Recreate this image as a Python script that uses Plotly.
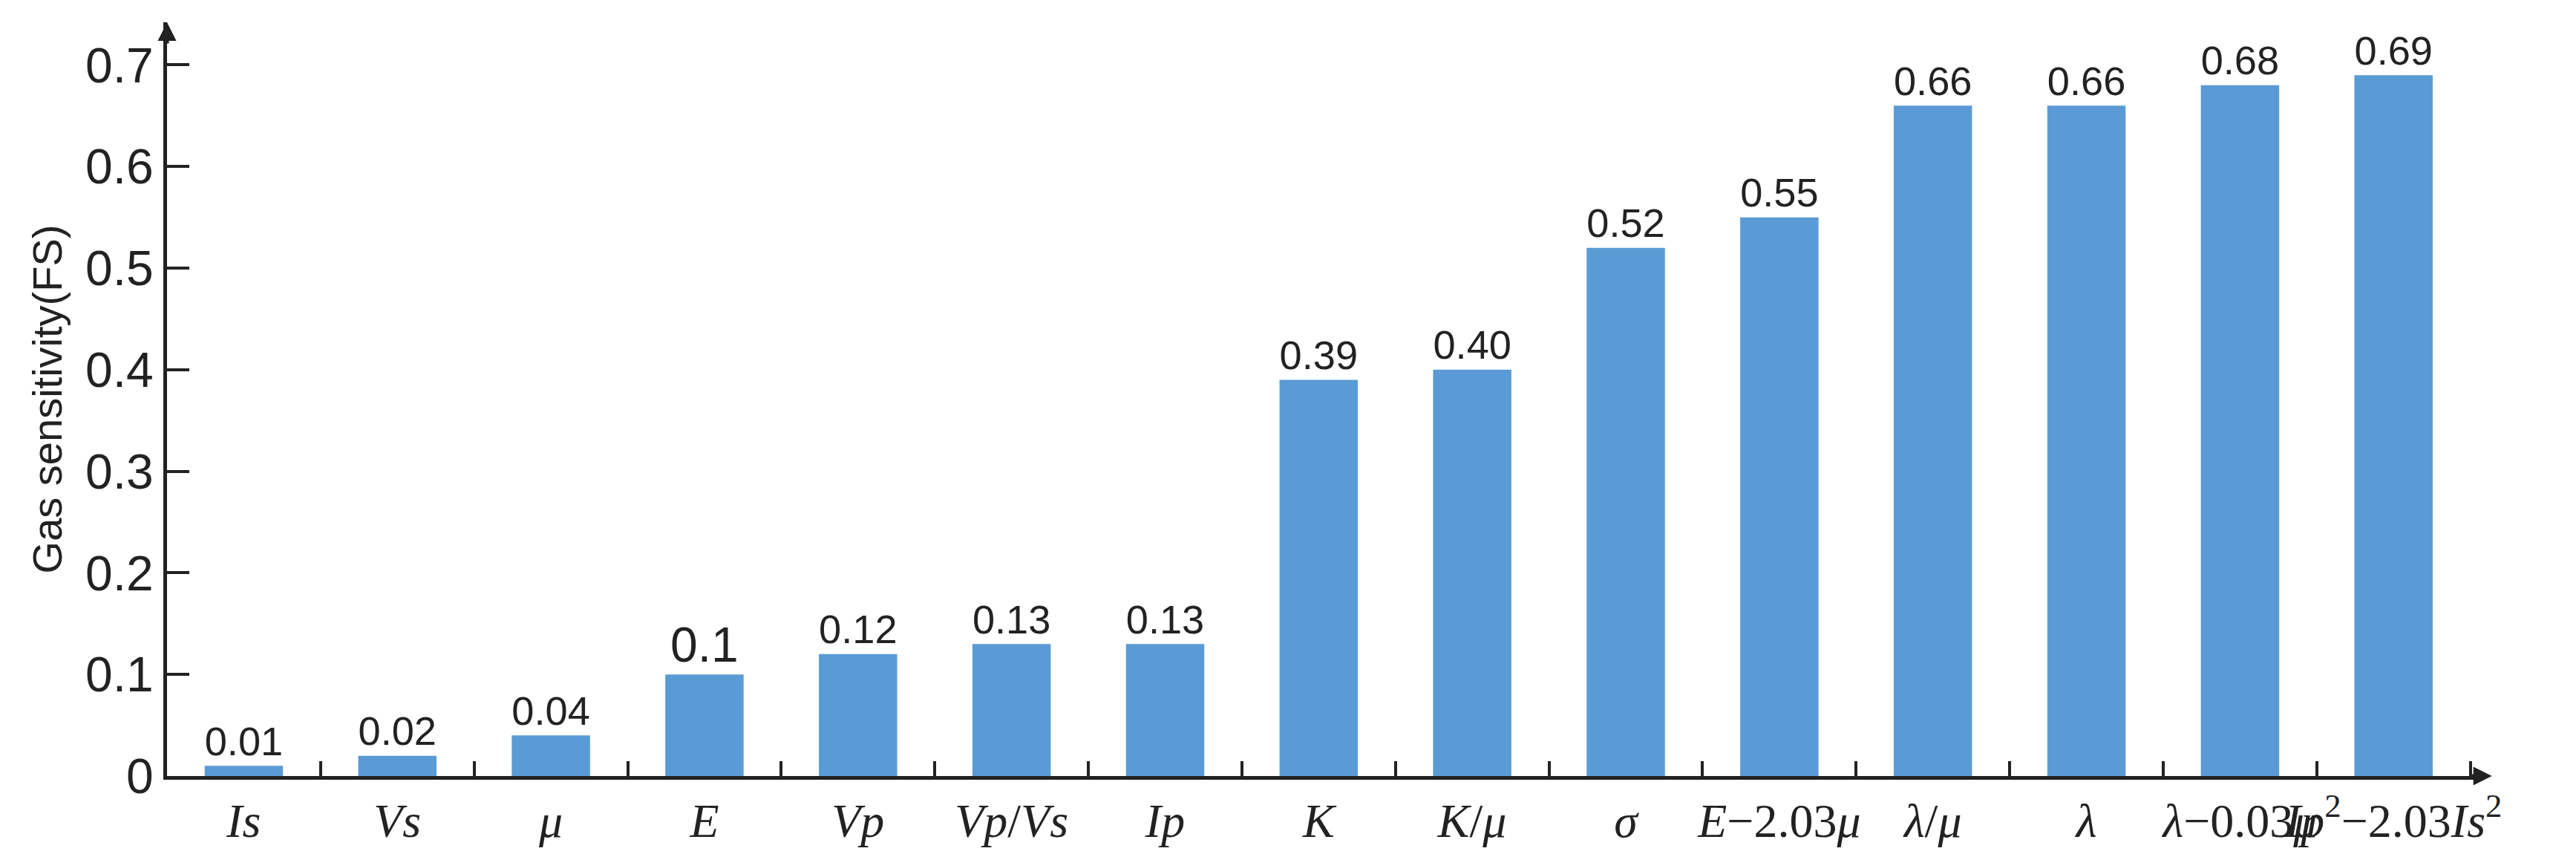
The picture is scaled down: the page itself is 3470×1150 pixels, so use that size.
import plotly.graph_objects as go

# parameters and their gas sensitivity
params = ['<i>Is</i>', '<i>Vs</i>', '<i>μ</i>', '<i>E</i>', '<i>Vp</i>', '<i>Vp</i>/<i>Vs</i>', '<i>Ip</i>',
          '<i>K</i>', '<i>K</i>/<i>μ</i>', '<i>σ</i>', '<i>E</i>−2.03<i>μ</i>', '<i>λ</i>/<i>μ</i>', '<i>λ</i>',
          '<i>λ</i>−0.03<i>μ</i>', '<i>Ip</i><sup>2</sup>−2.03<i>Is</i><sup>2</sup>']
fs_values = [0.01, 0.02, 0.04, 0.1, 0.12, 0.13, 0.13, 0.39, 0.40, 0.52, 0.55, 0.66, 0.66, 0.68, 0.69]
value_labels = ['0.01', '0.02', '0.04', '0.1', '0.12', '0.13', '0.13', '0.39', '0.40', '0.52', '0.55',
                '0.66', '0.66', '0.68', '0.69']

fig = go.Figure()
fig.add_trace(go.Bar(x=params, y=fs_values, text=value_labels, textposition='outside',
                     cliponaxis=False, width=0.51, marker=dict(color='#5B9BD5', line=dict(width=0)),
                     textfont=dict(size=66, color='#222')))

fig.update_layout(
    width=3470, height=1150, plot_bgcolor='white', paper_bgcolor='white',
    margin=dict(l=217, r=140, t=22, b=113), showlegend=False,
    font=dict(family='Liberation Sans, Arial', color='#222'),
    xaxis=dict(type='category', range=[-0.5, 14.55], showline=True, linecolor='#222', linewidth=5,
               ticks='inside', tickson='boundaries', ticklen=20, tickwidth=4, tickcolor='#222',
               tickangle=0, tickfont=dict(size=64, family='Liberation Sans Narrow, Arial Narrow'),
               showgrid=False),
    yaxis=dict(range=[0, 0.742], showline=True, linecolor='#222', linewidth=5, ticks='inside',
               ticklen=30, tickwidth=4, tickcolor='#222', dtick=0.1, tickformat='.1~f',
               tickfont=dict(size=66), showgrid=False, zeroline=False,
               title=dict(text='Gas sensitivity(FS)', font=dict(size=56), standoff=15)),
)

# axis arrowheads
fig.add_annotation(x=1.006, y=0, xref='paper', yref='paper', ax=-30, ay=0, text='',
                   showarrow=True, arrowhead=2, arrowsize=1, arrowwidth=5, arrowcolor='#222')
fig.add_annotation(x=0, y=1.0, xref='paper', yref='paper', ax=0, ay=30, text='',
                   showarrow=True, arrowhead=2, arrowsize=1, arrowwidth=5, arrowcolor='#222')

fig.write_html("out.html")
